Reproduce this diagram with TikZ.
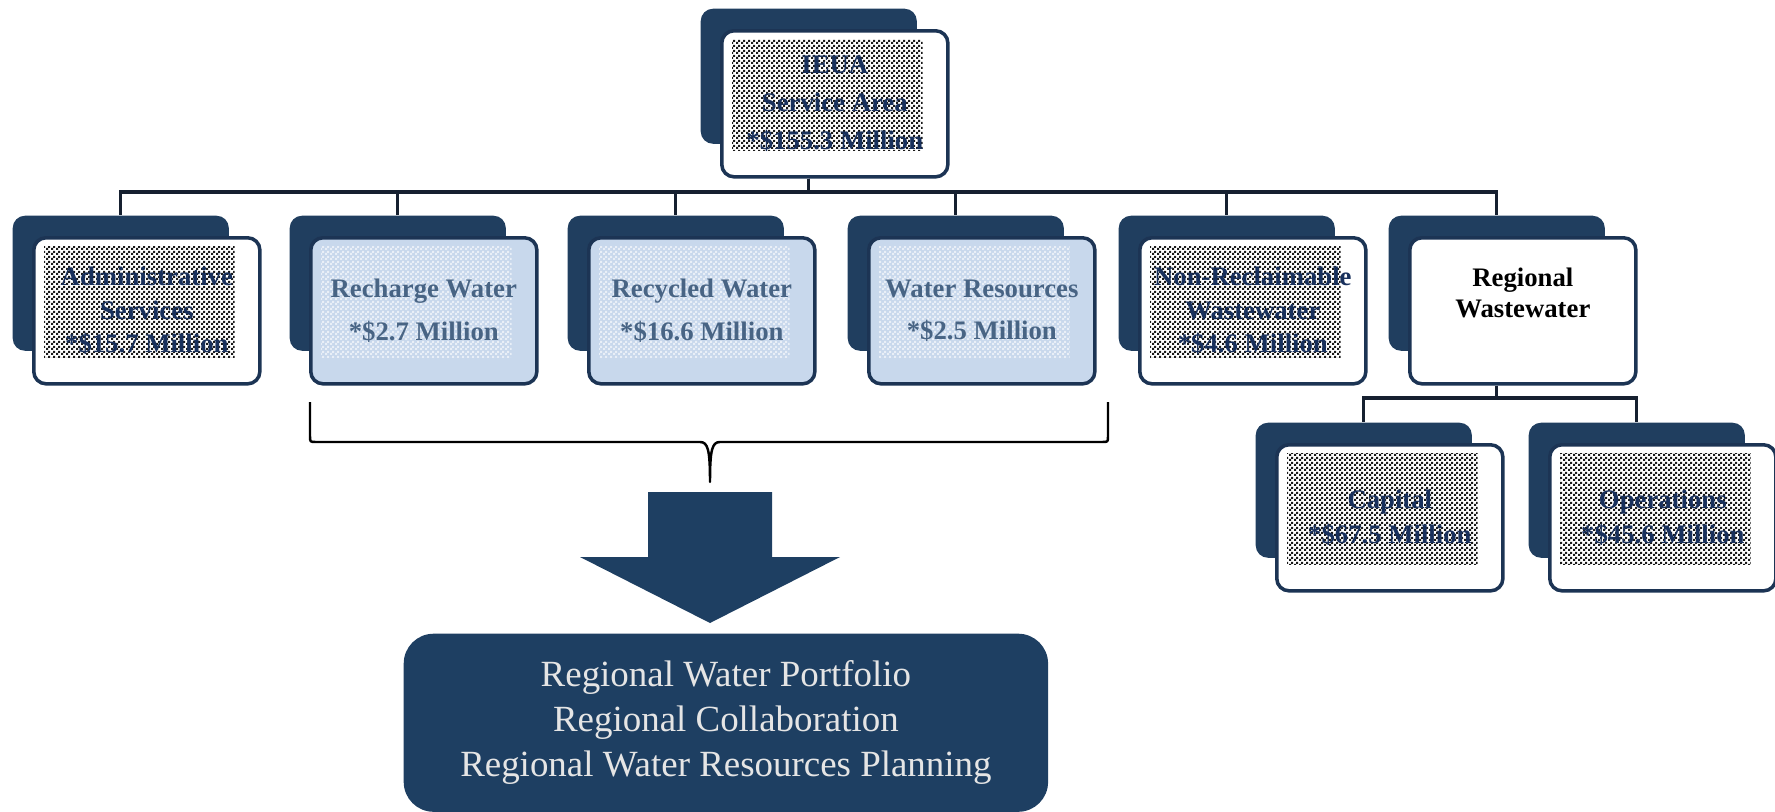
\documentclass[tikz,border=0pt]{standalone}
\usepackage{fontspec}
\setmainfont{Liberation Serif}
\usetikzlibrary{calc,patterns.meta}
\definecolor{orgnavy}{RGB}{32,62,95}
\definecolor{orgdeep}{RGB}{30,63,98}
\definecolor{orgedge}{RGB}{28,52,84}
\definecolor{orgwire}{RGB}{22,32,48}
\definecolor{orgsky}{RGB}{200,216,236}
\definecolor{orginkblue}{RGB}{72,100,132}
\definecolor{orgink}{RGB}{24,48,92}
\tikzdeclarepattern{
  name=scanchecker,
  type=uncolored,
  bounding box={(0pt,0pt) and (1.3pt,1.3pt)},
  tile size={(1.3pt,1.3pt)},
  code={
    \fill (0pt,0pt) rectangle (0.65pt,0.65pt);
    \fill (0.65pt,0.65pt) rectangle (1.3pt,1.3pt);
  }
}
\tikzset{
  orgback/.style={fill=orgnavy, rounded corners=3.5pt, inner sep=0pt,
    anchor=north west, minimum width=2.16cm, minimum height=1.35cm},
  orgcard/.style={draw=orgedge, line width=1pt, fill=white,
    rounded corners=3.5pt, inner sep=0pt, anchor=north west,
    minimum width=2.26cm, minimum height=1.46cm},
  orgcardblue/.style={orgcard, fill=orgsky},
  orghatch/.style={pattern=scanchecker, pattern color=black!90},
  orghatchsoft/.style={pattern=scanchecker, pattern color=white, fill opacity=0.6},
  orgtext/.style={align=center, text=orgink,
    font=\fontsize{7.6}{9.5}\selectfont\bfseries},
  orgtextblue/.style={orgtext, text=orginkblue,
    font=\fontsize{7.6}{12.2}\selectfont\bfseries},
  orgline/.style={draw=orgwire, line width=0.9pt},
  orgbrace/.style={draw=black, line width=0.7pt, line join=round},
  orggoal/.style={fill=orgdeep, rounded corners=8.5pt, inner sep=0pt,
    minimum width=6.44cm, minimum height=1.78cm, align=center,
    text=white!90!black, font=\fontsize{10.5}{12.8}\selectfont},
}

\begin{document}
\begin{tikzpicture}[x=0.01cm, y=-0.01cm]
  \useasboundingbox (0,0) rectangle (1775,812);
  % back plates
  \foreach \nm/\bx/\by in {ieua/700/8, adm/12/215, rch/289/215, rcy/567/215,
      wrs/847/215, nrw/1118/215, rww/1388/215, cap/1255/422, ops/1528/422}
    \node[orgback] (back-\nm) at (\bx,\by) {};
  % front cards
  \foreach \nm/\sty in {ieua/orgcard, adm/orgcard, rch/orgcardblue,
      rcy/orgcardblue, wrs/orgcardblue, nrw/orgcard, rww/orgcard,
      cap/orgcard, ops/orgcard}
    \node[\sty] (\nm) at ($(back-\nm.north west)+(20,21)$) {};
  % scanned shading behind the labels
  \foreach \nm/\hs in {ieua/orghatch, adm/orghatch, rch/orghatchsoft,
      rcy/orghatchsoft, wrs/orghatchsoft, nrw/orghatch, cap/orghatch,
      ops/orghatch}
    \fill[\hs] ($(\nm.north west)+(12,10)$) rectangle ($(\nm.south east)+(-27,-28)$);
  % labels
  \node[orgtext, font=\fontsize{7.6}{10.8}\selectfont\bfseries] (ieua-t) at (ieua)
    {IEUA\\Service Area\\*\$155.3 Million};
  \node[orgtext] (adm-t) at (adm) {Administrative\\Services\\*\$15.7 Million};
  \node[orgtextblue] (rch-t) at (rch) {Recharge Water\\*\$2.7 Million};
  \node[orgtextblue] (rcy-t) at (rcy) {Recycled Water\\*\$16.6 Million};
  \node[orgtextblue] (wrs-t) at (wrs) {Water Resources\\*\$2.5 Million};
  \node[orgtext] (nrw-t) at (nrw) {Non-Reclaimable\\Wastewater\\*\$4.6 Million};
  \node[orgtext, text=black, font=\fontsize{7.6}{8.6}\selectfont\bfseries] (rww-t)
    at ($(rww.north)+(0,57)$) {Regional\\Wastewater};
  \node[orgtext, font=\fontsize{7.6}{10.2}\selectfont\bfseries] (cap-t) at (cap)
    {Capital\\*\$67.5 Million};
  \node[orgtext, font=\fontsize{7.6}{10.2}\selectfont\bfseries] (ops-t) at (ops)
    {Operations\\*\$45.6 Million};
  % tree lines
  \coordinate (bus) at (0,192);
  \coordinate (bus2) at (0,398);
  \foreach \nm in {adm,rch,rcy,wrs,nrw,rww}
    \draw[orgline] (back-ieua |- ieua.south) -- (back-ieua |- bus) -| (back-\nm.north);
  \foreach \nm in {cap,ops}
    \draw[orgline] (back-rww |- rww.south) -- (back-rww |- bus2) -| (back-\nm.north);
  % brace under the water cards
  \coordinate (brace-l) at (310,402);
  \coordinate (brace-r) at (1108,402);
  \coordinate (brace-tip) at (710,482);
  \draw[orgbrace] (brace-l) -- ++(0,34) .. controls +(0,6) .. ++(6,6)
    -- ($(brace-tip)+(-10,-40)$) .. controls +(8,0) and +(0,-32) .. (brace-tip)
    .. controls +(0,-32) and +(-8,0) .. ($(brace-tip)+(10,-40)$)
    -- ($(brace-r)+(-6,40)$) .. controls +(6,0) .. ++(6,-6) -- (brace-r);
  % block arrow
  \fill[orgdeep] (648,492) -- (772,492) -- (772,557) -- (840,557) -- (710,623)
    -- (580,557) -- (648,557) -- cycle;
  \node[orggoal, anchor=north west] (goals) at (403,633)
    {Regional Water Portfolio\\Regional Collaboration\\Regional Water Resources Planning};
\end{tikzpicture}
\end{document}
